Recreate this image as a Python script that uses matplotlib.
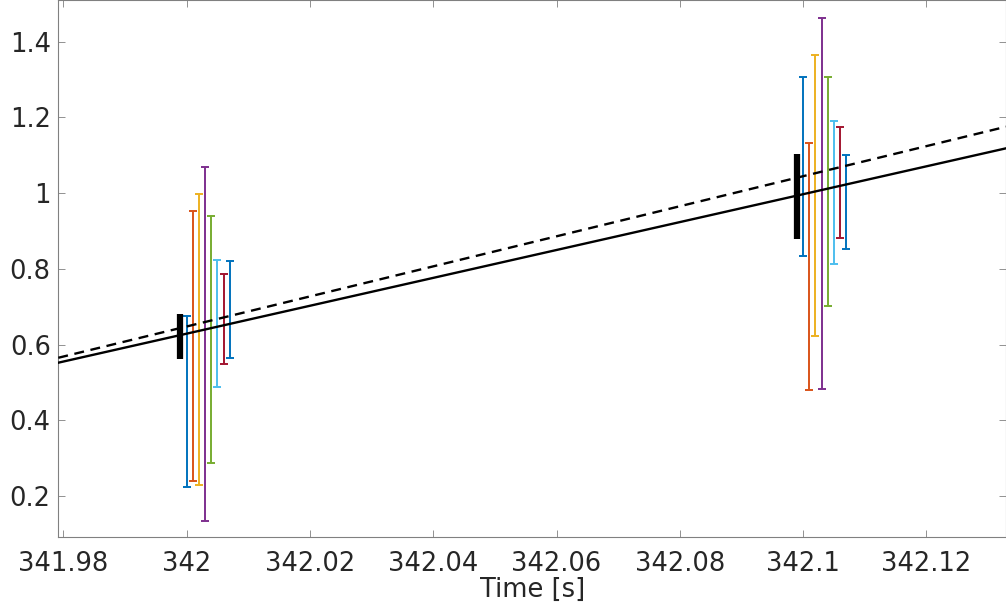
import matplotlib
matplotlib.use("Agg")
import matplotlib.pyplot as plt
import numpy as np

# MATLAB default color order (8th wraps to the first)
colors = ['#0072BD', '#D95319', '#EDB120', '#7E2F8E',
          '#77AC30', '#4DBEEE', '#A2142F', '#0072BD']

# reference (black) bars
ref_t = [341.999, 342.099]
ref_lo = [0.561, 0.879]
ref_hi = [0.680, 1.104]

# colored error bars, one list per group (two time instants)
group_t0 = [342.000, 342.100]
bar_step = 0.001
bars_lo = [
    [0.224, 0.240, 0.229, 0.135, 0.286, 0.487, 0.549, 0.564],
    [0.834, 0.479, 0.623, 0.483, 0.702, 0.812, 0.882, 0.852],
]
bars_hi = [
    [0.675, 0.953, 0.997, 1.069, 0.939, 0.822, 0.785, 0.820],
    [1.306, 1.131, 1.364, 1.461, 1.307, 1.189, 1.173, 1.100],
]

# trend lines
line_t = [341.9792, 342.1329]
solid_y = [0.552, 1.118]
dashed_y = [0.565, 1.175]

xticks = [341.98, 342.0, 342.02, 342.04, 342.06, 342.08, 342.1, 342.12]
xticklabels = ['341.98', '342', '342.02', '342.04', '342.06', '342.08', '342.1', '342.12']
yticks = [0.2, 0.4, 0.6, 0.8, 1.0, 1.2, 1.4]
yticklabels = ['0.2', '0.4', '0.6', '0.8', '1', '1.2', '1.4']

fig = plt.figure(figsize=(10.06, 6.08), dpi=100)
ax = fig.add_axes([58.3 / 1006, 70.7 / 608, (1006 - 58.3) / 1006, 537.3 / 608])

ax.plot(line_t, solid_y, color='black', lw=1.7, zorder=3)
ax.plot(line_t, dashed_y, color='black', lw=1.7, linestyle=(0, (4.2, 2.8)), zorder=3)

for g in range(len(group_t0)):
    for k in range(len(colors)):
        t = group_t0[g] + k * bar_step
        lo = bars_lo[g][k]
        hi = bars_hi[g][k]
        ax.errorbar([t], [(lo + hi) / 2], yerr=[[(hi - lo) / 2], [(hi - lo) / 2]],
                    fmt='none', ecolor=colors[k], elinewidth=1.4,
                    capsize=3, capthick=1.4, zorder=2)

for t, lo, hi in zip(ref_t, ref_lo, ref_hi):
    ax.plot([t, t], [lo, hi], color='black', lw=4.5, solid_capstyle='butt', zorder=4)

ax.set_xlim(341.9792, 342.1329)
ax.set_ylim(0.091, 1.5096)
ax.set_xticks(xticks)
ax.set_xticklabels(xticklabels)
ax.set_yticks(yticks)
ax.set_yticklabels(yticklabels)

for s in ax.spines.values():
    s.set_color('#808080')
    s.set_linewidth(0.8)
ax.tick_params(direction='in', length=5, width=0.6, color='#808080',
               labelcolor='#262626', labelsize=18.5, top=True, right=True)
ax.tick_params(axis='x', pad=10)
ax.tick_params(axis='y', pad=5.5)
ax.set_xlabel('Time [s]', fontsize=18.5, color='#262626', labelpad=0)

fig.savefig('out.png', dpi=100)
